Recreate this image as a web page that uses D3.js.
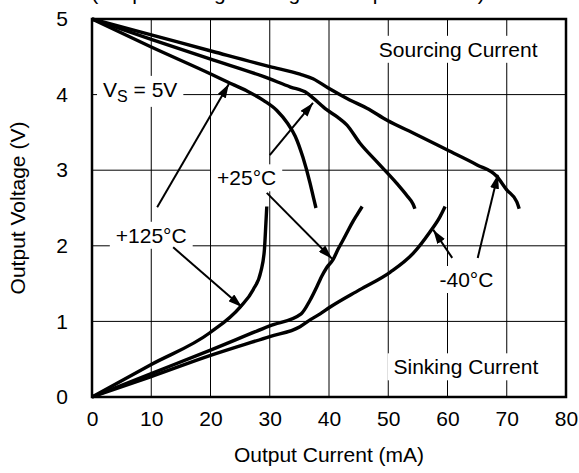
<!DOCTYPE html>
<html>
<head>
<meta charset="utf-8">
<script src="https://cdn.jsdelivr.net/npm/d3@7"></script>
<style>
  html, body { margin: 0; padding: 0; background: #fff; }
  svg { display: block; font-family: "Liberation Sans", Arial, sans-serif; }
</style>
</head>
<body>
<svg id="chart" width="579" height="473"></svg>
<script>
// Output voltage vs output current, VS = 5V, three temperatures
const xTicks = [0, 10, 20, 30, 40, 50, 60, 70, 80];
const yTicks = [0, 1, 2, 3, 4, 5];

// Sourcing current (output pulled down from the positive rail)
const sourcingHot = [[0,5],[10,4.63],[20.4,4.26],[22.8,4.17],[26.1,4.05],[29,3.92],[31.2,3.79],[33,3.62],[34.3,3.45],[35.6,3.17],[36.8,2.83],[37.4,2.63],[37.8,2.5]];
const sourcingRoom = [[0,5],[10,4.73],[20.4,4.46],[28.9,4.24],[33.5,4.1],[36.3,4.02],[37.4,3.95],[39.6,3.8],[41.5,3.7],[43,3.6],[45.2,3.36],[48.1,3.11],[51.4,2.83],[53.2,2.66],[54.2,2.55],[54.5,2.49]];
const sourcingCold = [[0,5],[10,4.79],[20.4,4.57],[30,4.37],[35.1,4.27],[37.3,4.21],[39.8,4.09],[43.5,3.93],[46.4,3.82],[49.8,3.66],[54.8,3.47],[59.9,3.27],[65,3.07],[68.3,2.92],[70,2.74],[71.7,2.58],[72.1,2.49]];

// Sinking current (output pulled up from ground)
const sinkingHot = [[0,0],[10,0.43],[19.9,0.85],[25,1.19],[27.2,1.42],[28.5,1.66],[29.1,1.95],[29.35,2.3],[29.5,2.52]];
const sinkingRoom = [[0,0],[10,0.31],[20,0.62],[30,0.94],[35.3,1.1],[36.8,1.28],[38.2,1.5],[38.8,1.6],[39.6,1.71],[40.7,1.82],[41.5,1.95],[42.4,2.08],[43.2,2.2],[44.1,2.33],[44.8,2.42],[45.6,2.52]];
const sinkingCold = [[0,0],[10,0.27],[20,0.55],[30,0.8],[35.1,0.93],[36.8,1.02],[38.5,1.1],[40.2,1.19],[45.2,1.42],[50.3,1.65],[54.2,1.9],[57,2.18],[58.7,2.38],[59.6,2.52]];

const curves = [sourcingHot, sourcingRoom, sourcingCold, sinkingHot, sinkingRoom, sinkingCold];

// Callout text and their leader arrows, in data units [from, to]
const labels = [
  { text: "Sourcing Current", x: 61.8, y: 4.50 },
  { text: "Sinking Current",  x: 63.1, y: 0.30 },
  { text: "+125°C",           x: 10.0, y: 2.04 },
  { text: "+25°C",            x: 26.1, y: 2.80 },
  { text: "-40°C",            x: 63.2, y: 1.455 }
];
const arrows = [
  [[11.0, 2.51], [23.1, 4.14]],
  [[13.7, 1.98], [25.3, 1.19]],
  [[30.0, 3.20], [37.3, 3.89]],
  [[29.5, 2.70], [40.5, 1.83]],
  [[60.8, 1.84], [57.6, 2.21]],
  [[65.1, 1.84], [68.5, 2.94]]
];

const svg = d3.select("#chart");
const margin = { left: 92, right: 13, top: 19, bottom: 76 };
const W = 579, H = 473;

const x = d3.scaleLinear().domain([0, 80]).range([margin.left, W - margin.right]);
const y = d3.scaleLinear().domain([0, 5]).range([H - margin.bottom, margin.top]);

// Title sitting just above the top edge of the page
svg.append("text")
  .attr("x", 288).attr("y", 0)
  .attr("text-anchor", "middle")
  .style("font-size", "21px")
  .text("(Output Voltage Swing vs. Output Current)");

// Grid
const grid = svg.append("g").attr("stroke", "#000").attr("stroke-width", 1);
grid.selectAll("line.v").data(xTicks.slice(1, -1)).join("line")
  .attr("x1", d => x(d)).attr("x2", d => x(d))
  .attr("y1", y(0)).attr("y2", y(5));
grid.selectAll("line.h").data(yTicks.slice(1, -1)).join("line")
  .attr("x1", x(0)).attr("x2", x(80))
  .attr("y1", d => y(d)).attr("y2", d => y(d));

// Axes (labels only; the frame is drawn separately)
const xAxis = d3.axisBottom(x).tickValues(xTicks).tickFormat(d3.format("d")).tickSize(0).tickPadding(14);
const yAxis = d3.axisLeft(y).tickValues(yTicks).tickFormat(d3.format("d")).tickSize(0).tickPadding(24);
const gx = svg.append("g").attr("transform", `translate(0,${y(0)})`).call(xAxis);
const gy = svg.append("g").attr("transform", `translate(${x(0)},0)`).call(yAxis);
[gx, gy].forEach(g => {
  g.select(".domain").remove();
  g.selectAll("text").style("font-size", "21px").style("font-family", "Liberation Sans, Arial, sans-serif").attr("fill", "#000");
});

// Axis titles
svg.append("text")
  .attr("x", (x(0) + x(80)) / 2).attr("y", 462)
  .attr("text-anchor", "middle").style("font-size", "21px")
  .text("Output Current (mA)");
svg.append("text")
  .attr("transform", `translate(25,${(y(0) + y(5)) / 2}) rotate(-90)`)
  .attr("text-anchor", "middle").style("font-size", "21px")
  .text("Output Voltage (V)");

// Labels with white backing that interrupts the grid
const labelLayer = svg.append("g");
function addLabel(parent, build) {
  const g = parent.append("g");
  const t = build(g);
  const b = t.node().getBBox();
  g.insert("rect", "text")
    .attr("x", b.x - 6).attr("y", b.y - 2)
    .attr("width", b.width + 12).attr("height", b.height + 4)
    .attr("fill", "#fff");
}
labels.forEach(l => {
  addLabel(labelLayer, g => g.append("text")
    .attr("x", x(l.x)).attr("y", y(l.y))
    .attr("text-anchor", "middle").style("font-size", "21px")
    .text(l.text));
});
addLabel(labelLayer, g => {
  const t = g.append("text").attr("x", x(1.86)).attr("y", y(3.97)).style("font-size", "21px");
  t.append("tspan").text("V");
  t.append("tspan").attr("dy", 5).style("font-size", "16px").text("S");
  t.append("tspan").attr("dy", -5).text(" = 5V");
  return t;
});

// Curves
const line = d3.line().x(d => x(d[0])).y(d => y(d[1])).curve(d3.curveMonotoneX);
svg.append("g").selectAll("path").data(curves).join("path")
  .attr("d", line)
  .attr("fill", "none").attr("stroke", "#000")
  .attr("stroke-width", 3.4).attr("stroke-linejoin", "round").attr("stroke-linecap", "butt");

// Arrows
svg.append("defs").append("marker")
  .attr("id", "head").attr("markerUnits", "userSpaceOnUse")
  .attr("viewBox", "0 0 14 9").attr("refX", 14).attr("refY", 4.5)
  .attr("markerWidth", 14).attr("markerHeight", 9).attr("orient", "auto")
  .append("path").attr("d", "M0,0 L14,4.5 L0,9 Z").attr("fill", "#000");
svg.append("g").selectAll("line").data(arrows).join("line")
  .attr("x1", d => x(d[0][0])).attr("y1", d => y(d[0][1]))
  .attr("x2", d => x(d[1][0])).attr("y2", d => y(d[1][1]))
  .attr("stroke", "#000").attr("stroke-width", 2)
  .attr("marker-end", "url(#head)");

// Frame
svg.append("rect")
  .attr("x", x(0)).attr("y", y(5))
  .attr("width", x(80) - x(0)).attr("height", y(0) - y(5))
  .attr("fill", "none").attr("stroke", "#000").attr("stroke-width", 2.5);
</script>
</body>
</html>
